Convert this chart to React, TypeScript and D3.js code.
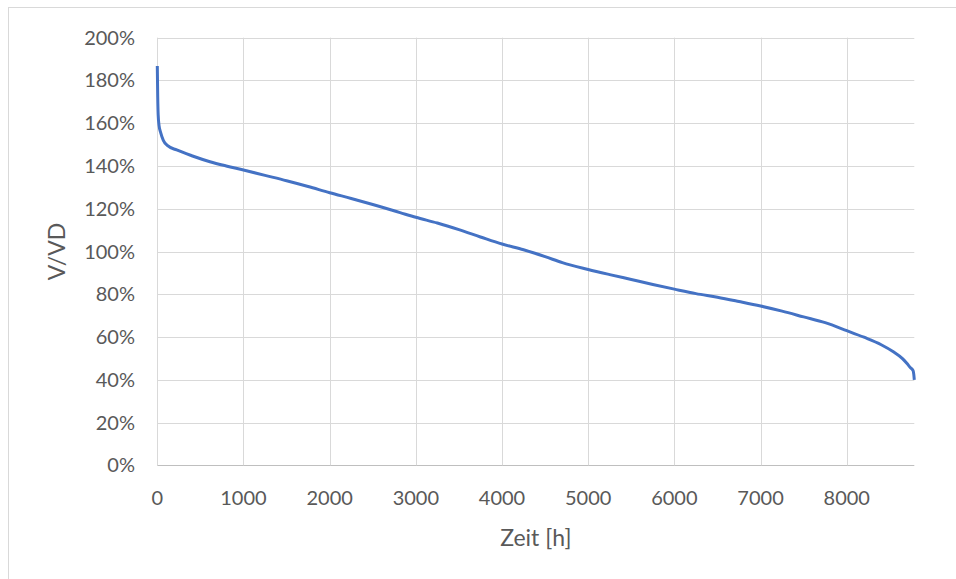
import React from "react";
import * as d3 from "d3";

const hours = [0, 5, 10, 20, 40, 70, 120, 225, 400, 611, 800, 1000, 1250, 1500, 1750, 2000, 2250, 2500, 2817, 3000, 3250, 3500, 3750, 4000, 4250, 4500, 4700, 5000, 5250, 5500, 5750, 6000, 6250, 6500, 6750, 7000, 7250, 7500, 7750, 8000, 8200, 8400, 8541, 8650, 8697, 8740, 8770, 8778, 8784];
const values = [186.8, 172, 164, 159, 155.5, 152, 149.5, 147.5, 144.8, 142, 140, 138.1, 135.6, 133.1, 130.4, 127.5, 124.8, 122, 118.2, 116.0, 113.3, 110.2, 106.8, 103.5, 100.8, 97.6, 94.8, 91.6, 89.2, 86.9, 84.6, 82.4, 80.3, 78.6, 76.6, 74.5, 72.1, 69.4, 66.7, 63.0, 59.9, 56.4, 53.1, 49.8, 47.7, 45.6, 44.3, 42.5, 40];
const xTicks = [0, 1000, 2000, 3000, 4000, 5000, 6000, 7000, 8000];
const yTicks = [0, 20, 40, 60, 80, 100, 120, 140, 160, 180, 200];
const xTitle = "Zeit [h]";
const yTitle = "V/VD";

const W = 956, H = 579;
const left = 157.3, right = 914.3, top = 37.7, bottom = 465.3;
const FONT = "Lato, 'Open Sans', sans-serif";
const TXT = "#595959";

export default function App() {
  const x = d3.scaleLinear().domain([0, 8784]).range([left, right]);
  const y = d3.scaleLinear().domain([0, 200]).range([bottom, top]);
  const pts = hours.map((h, i) => [h, values[i]] as [number, number]);
  const line = d3.line<[number, number]>().x(d => x(d[0])).y(d => y(d[1])).curve(d3.curveMonotoneX);
  return (
    <svg width={W} height={H} style={{ position: "absolute", left: 0, top: 0, background: "#fff" }}>
      <rect x={8.5} y={7.5} width={960} height={600} fill="#fff" stroke="#d9d9d9" strokeWidth={1} />
      {yTicks.map(t => (
        <line key={"gy" + t} x1={left} x2={right} y1={Math.round(y(t)) + 0.5} y2={Math.round(y(t)) + 0.5}
          stroke={t === 0 ? "#bfbfbf" : "#d9d9d9"} strokeWidth={1} />
      ))}
      {xTicks.map(t => (
        <line key={"gx" + t} x1={Math.round(x(t)) + 0.5} x2={Math.round(x(t)) + 0.5} y1={top} y2={bottom}
          stroke="#d9d9d9" strokeWidth={1} />
      ))}
      <path d={line(pts) || ""} fill="none" stroke="#4472C4" strokeWidth={3} strokeLinejoin="round" />
      {yTicks.map(t => (
        <text key={"ty" + t} x={135} y={y(t)} dy="0.35em" textAnchor="end" fontFamily={FONT} fontSize={20} fill={TXT}>
          {t + "%"}
        </text>
      ))}
      {xTicks.map(t => (
        <text key={"tx" + t} x={x(t)} y={505} textAnchor="middle" fontFamily={FONT} fontSize={20} fill={TXT}>
          {t}
        </text>
      ))}
      <text x={(left + right) / 2} y={546} textAnchor="middle" fontFamily={FONT} fontSize={23} fill={TXT}>{xTitle}</text>
      <text transform={`translate(${65},${(top + bottom) / 2}) rotate(-90)`} textAnchor="middle" fontFamily={FONT} fontSize={23} fill={TXT}>{yTitle}</text>
    </svg>
  );
}
